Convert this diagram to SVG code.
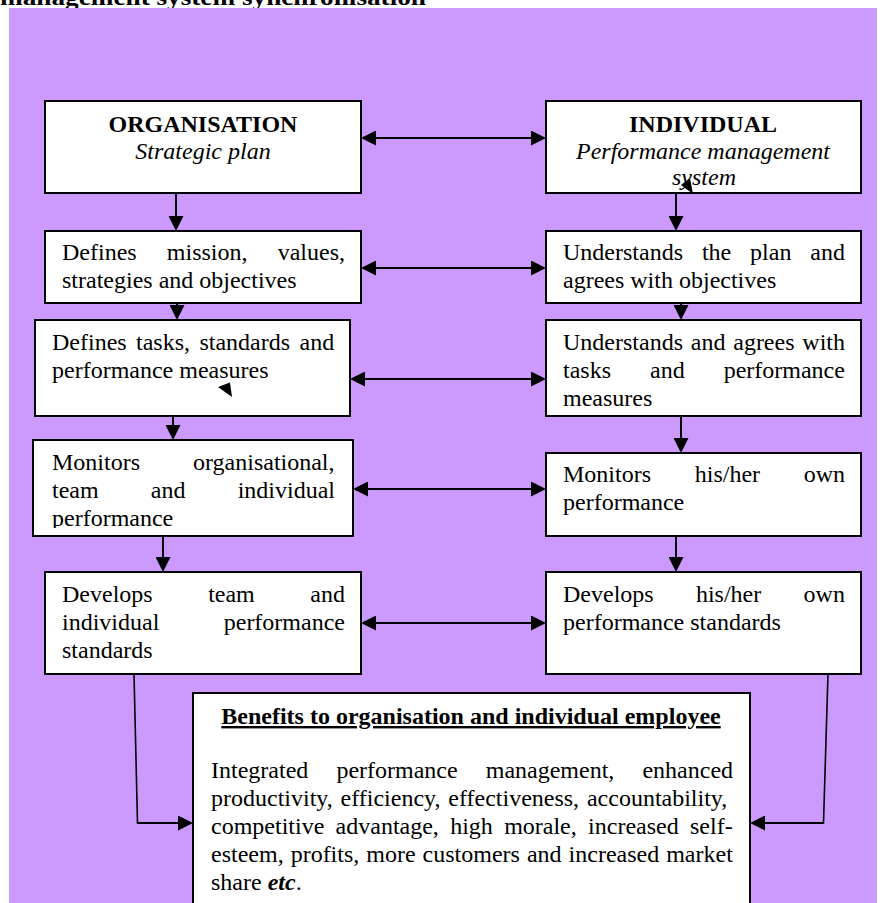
<svg xmlns="http://www.w3.org/2000/svg" width="885" height="903" viewBox="0 0 885 903">
<style>
text{font-family:"Liberation Serif","Times New Roman",serif;font-size:24px;fill:#000}
.b{font-weight:bold}
.i{font-style:italic}
.box{fill:#fff;stroke:#000;stroke-width:2}
.c line,.c polyline{stroke:#000;stroke-width:2;fill:none}
.c .thin{stroke-width:1.6}
.mid{text-anchor:middle}
</style>
<defs>
<marker id="ah" viewBox="0 0 15 15" refX="11" refY="7.5" markerWidth="15" markerHeight="15" markerUnits="userSpaceOnUse" orient="auto-start-reverse">
<path d="M0,0 L15,7.5 L0,15 z" fill="#000"/>
</marker>
<clipPath id="clipMon"><rect x="33" y="440" width="320" height="88"/></clipPath>
</defs>
<rect x="0" y="0" width="885" height="903" fill="#fff"/>
<text class="b" x="0" y="5" font-size="26" textLength="426" lengthAdjust="spacingAndGlyphs">management system synchronisation</text>
<rect x="9" y="8" width="868" height="895" fill="#CC99FF"/>

<g id="org">
<rect class="box" x="45" y="101" width="316" height="92"/>
<text class="b mid" x="203" y="132">ORGANISATION</text>
<text class="i mid" x="203" y="159">Strategic plan</text>
</g>
<g id="individual">
<rect class="box" x="546" y="101" width="315" height="92"/>
<text class="b mid" x="703" y="132">INDIVIDUAL</text>
<text class="i mid" x="703" y="159">Performance management</text>
<text class="i mid" x="704" y="185">system</text>
</g>
<g id="defines-mission">
<rect class="box" x="45" y="231" width="316" height="72"/>
<text x="62" y="260" word-spacing="24.2">Defines mission, values,</text>
<text x="62" y="288">strategies and objectives</text>
</g>
<g id="understands-plan">
<rect class="box" x="546" y="231" width="315" height="72"/>
<text x="563" y="260" word-spacing="12.9">Understands the plan and</text>
<text x="563" y="288">agrees with objectives</text>
</g>
<g id="defines-tasks">
<rect class="box" x="35" y="320" width="315" height="96"/>
<text x="52" y="350" word-spacing="3.4">Defines tasks, standards and</text>
<text x="52" y="378">performance measures</text>
</g>
<g id="understands-tasks">
<rect class="box" x="546" y="320" width="315" height="96"/>
<text x="563" y="350" word-spacing="1.8">Understands and agrees with</text>
<text x="563" y="378" word-spacing="33">tasks and performance</text>
<text x="563" y="406">measures</text>
</g>
<g id="monitors-org">
<rect class="box" x="33" y="440" width="320" height="96"/>
<text x="52" y="470" word-spacing="47">Monitors organisational,</text>
<text x="52" y="498" word-spacing="46.2">team and individual</text>
<text x="52" y="526" clip-path="url(#clipMon)">performance</text>
</g>
<g id="monitors-own">
<rect class="box" x="546" y="453" width="315" height="83"/>
<text x="563" y="482" word-spacing="37.7">Monitors his/her own</text>
<text x="563" y="510">performance</text>
</g>
<g id="develops-team">
<rect class="box" x="45" y="572" width="316" height="102"/>
<text x="62" y="602" word-spacing="49.5">Develops team and</text>
<text x="62" y="630" word-spacing="58.4">individual performance</text>
<text x="62" y="658">standards</text>
</g>
<g id="develops-own">
<rect class="box" x="546" y="572" width="315" height="102"/>
<text x="563" y="602" word-spacing="36.3">Develops his/her own</text>
<text x="563" y="630">performance standards</text>
</g>
<g id="benefits">
<rect class="box" x="193" y="693" width="557" height="240"/>
<text class="b mid" x="471" y="724" text-decoration="underline">Benefits to organisation and individual employee</text>
<text x="211" y="778" word-spacing="22.1">Integrated performance management, enhanced</text>
<text x="211" y="806" word-spacing="1.8">productivity, efficiency, effectiveness, accountability,</text>
<text x="211" y="834" word-spacing="5.3">competitive advantage, high morale, increased self-</text>
<text x="211" y="862" word-spacing="1">esteem, profits, more customers and increased market</text>
<text x="211" y="890">share <tspan class="b i">etc</tspan>.</text>
</g>

<g id="connectors" class="c">
<line x1="365" y1="138" x2="542" y2="138" marker-start="url(#ah)" marker-end="url(#ah)"/>
<line x1="365" y1="268" x2="542" y2="268" marker-start="url(#ah)" marker-end="url(#ah)"/>
<line x1="354" y1="379" x2="542" y2="379" marker-start="url(#ah)" marker-end="url(#ah)"/>
<line x1="357" y1="489" x2="542" y2="489" marker-start="url(#ah)" marker-end="url(#ah)"/>
<line x1="365" y1="623" x2="542" y2="623" marker-start="url(#ah)" marker-end="url(#ah)"/>

<line x1="176" y1="193" x2="176" y2="227" marker-end="url(#ah)"/>
<line x1="676" y1="193" x2="676" y2="227" marker-end="url(#ah)"/>
<line x1="177" y1="303" x2="177" y2="316" marker-end="url(#ah)"/>
<line x1="681" y1="303" x2="681" y2="316" marker-end="url(#ah)"/>
<line x1="173" y1="416" x2="173" y2="436" marker-end="url(#ah)"/>
<line x1="681" y1="416" x2="681" y2="449" marker-end="url(#ah)"/>
<line x1="163" y1="536" x2="163" y2="568" marker-end="url(#ah)"/>
<line x1="676" y1="536" x2="676" y2="568" marker-end="url(#ah)"/>

<polyline class="thin" points="134,674 137.5,823 189,823" marker-end="url(#ah)"/>
<polyline class="thin" points="828,674 823.5,823 754,823" marker-end="url(#ah)"/>
<line x1="137.5" y1="823" x2="189" y2="823"/>
<line x1="823.5" y1="823" x2="754" y2="823"/>

<polygon points="681,185 690,178 693,194" fill="#000"/>
<polygon points="218,387 230,382.5 232,397" fill="#000"/>
</g>
</svg>
